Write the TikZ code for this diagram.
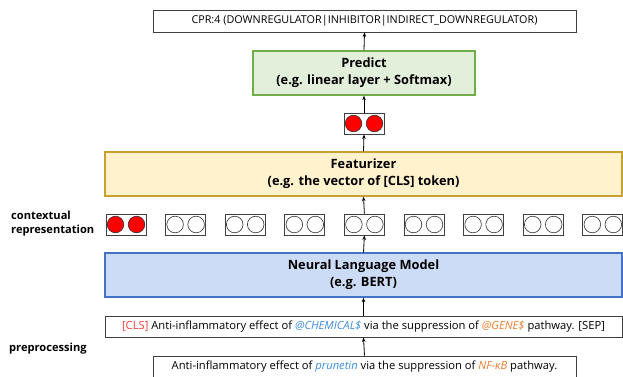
\documentclass[tikz,border=0pt]{standalone}
\usepackage{fontspec}
\setmainfont{Open Sans}
\usetikzlibrary{arrows.meta}

\definecolor{predfill}{HTML}{E2EFDA}
\definecolor{preddraw}{HTML}{70AD47}
\definecolor{featfill}{HTML}{FFF2CC}
\definecolor{featdraw}{HTML}{C9A131}
\definecolor{nlmfill}{HTML}{CCDCF6}
\definecolor{nlmdraw}{HTML}{4472C4}
\definecolor{clsred}{HTML}{FF3B3B}
\definecolor{chemblue}{HTML}{3D8FE0}
\definecolor{geneorange}{HTML}{ED7D31}

\begin{document}
\begin{tikzpicture}[x=1pt, y=-1pt,
    plainbox/.style={draw=black!75, line width=0.8pt, fill=white, inner sep=0pt, font=\fontsize{11.2}{13}\selectfont},
    layerbox/.style={line width=1.3pt, inner sep=0pt, minimum height=44pt, align=center, font=\bfseries\fontsize{12.8}{17}\selectfont},
    vecbox/.style={draw=black!75, line width=0.8pt, fill=white, inner sep=0pt, minimum width=40pt, minimum height=21pt},
    sidelabel/.style={anchor=west, align=left, inner sep=0pt, font=\bfseries\fontsize{11.1}{14}\selectfont},
    up/.style={-{Stealth[length=4.5pt,width=3.5pt]}, line width=0.8pt}]

    \useasboundingbox (0,0) rectangle (623,377);

    \node[plainbox, minimum width=423pt, minimum height=22pt, font=\fontsize{10.8}{13}\selectfont] (cpr) at (364.5,21) {CPR:4 (DOWNREGULATOR|INHIBITOR|INDIRECT\_DOWNREGULATOR)};
    \node[layerbox, draw=preddraw, fill=predfill, minimum width=222pt] (predict) at (364,73) {Predict\\(e.g. linear layer + Softmax)};
    \node[vecbox] (clsvec) at (364,123.5) {};
    \node[layerbox, draw=featdraw, fill=featfill, minimum width=517pt] (featurizer) at (363.5,174) {Featurizer\\(e.g. the vector of [CLS] token)};

    \foreach \i in {1,...,9} \node[vecbox] (vec\i) at ({126+59.6*(\i-1)},224.5) {};

    \node[layerbox, draw=nlmdraw, fill=nlmfill, minimum width=517pt] (nlm) at (363.5,275) {Neural Language Model\\(e.g. BERT)};
    \node[plainbox, minimum width=517pt, minimum height=21pt] (input) at (363.5,326.5) {\textcolor{clsred}{[CLS]} Anti-inflammatory effect of \textcolor{chemblue}{\textit{@CHEMICAL\$}} via the suppression of \textcolor{geneorange}{\textit{@GENE\$}} pathway. [SEP]};
    \node[plainbox, minimum width=423pt, minimum height=22pt] (raw) at (364.5,367) {Anti-inflammatory effect of \textcolor{chemblue}{\textit{prunetin}} via the suppression of \textcolor{geneorange}{\textit{NF-κB}} pathway.};

    \node[sidelabel] (ctxlabel) at (11,224) {contextual\\representation};
    \node[sidelabel] (prelabel) at (9,349) {preprocessing};

    \foreach \side in {-10.5,10.5} \filldraw[fill=red, draw=black!80, line width=0.6pt] ([xshift=\side pt]clsvec.center) circle (8.3pt);
    \foreach \side in {-10.5,10.5} \filldraw[fill=red, draw=black!80, line width=0.6pt] ([xshift=\side pt]vec1.center) circle (8.3pt);
    \foreach \i in {2,...,9} \foreach \side in {-10.5,10.5} \draw[black!80, line width=0.6pt] ([xshift=\side pt]vec\i.center) circle (8.3pt);

    \draw[up] (raw.north) -- (input.south);
    \draw[up] (input.north) -- (nlm.south);
    \draw[up] (nlm.north) -- (vec5.south);
    \draw[up] (vec5.north) -- (featurizer.south);
    \draw[up] (featurizer.north) -- (clsvec.south);
    \draw[up] (clsvec.north) -- (predict.south);
    \draw[up] (predict.north) -- (cpr.south);

\end{tikzpicture}
\end{document}
